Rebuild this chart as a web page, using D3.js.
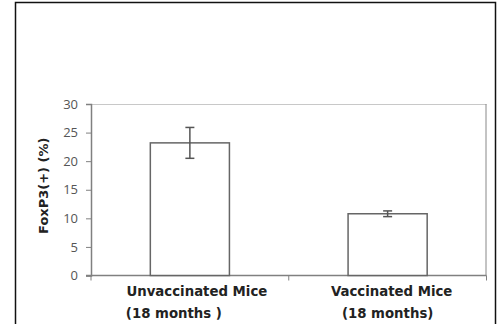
<!DOCTYPE html>
<html>
<head>
<meta charset="utf-8">
<script src="https://cdn.jsdelivr.net/npm/d3@7"></script>
<style>
  body { margin: 0; background: #fff; }
  svg { display: block; }
</style>
</head>
<body>
<svg width="501" height="324"></svg>
<script>
// Chart data
const categories = ["Unvaccinated Mice", "Vaccinated Mice"];
const subLabels = ["(18 months )", "(18 months)"];
const means = [23.2, 10.8];
const errors = [2.7, 0.5];
const yTicks = [0, 5, 10, 15, 20, 25, 30];

const svg = d3.select("svg");

// outer frame
svg.append("rect")
    .attr("x", 15.5).attr("y", 2.5)
    .attr("width", 480).attr("height", 330)
    .attr("fill", "none")
    .attr("stroke", "#111")
    .attr("stroke-width", 1.5);

const margin = {top: 104, left: 91, right: 14.5, bottom: 48.5};
const width = 501 - margin.left - margin.right;
const height = 324 - margin.top - margin.bottom;

const g = svg.append("g")
    .attr("transform", `translate(${margin.left},${margin.top})`);

const x = d3.scaleBand()
    .domain(categories)
    .range([0, width])
    .paddingInner(0.6)
    .paddingOuter(0.3);

const y = d3.scaleLinear()
    .domain([0, 30])
    .range([height, 0]);

// plot area border (top and right)
g.append("line")
    .attr("x1", 0).attr("x2", width)
    .attr("y1", 0.5).attr("y2", 0.5)
    .attr("stroke", "#c8c8c8");
g.append("line")
    .attr("x1", width - 0.5).attr("x2", width - 0.5)
    .attr("y1", 0).attr("y2", height)
    .attr("stroke", "#888");

// y axis
const yAxis = g.append("g")
    .call(d3.axisLeft(y).tickValues(yTicks).tickSize(5).tickPadding(8));
yAxis.select(".domain").attr("stroke", "#808080").attr("stroke-width", 1.5);
yAxis.selectAll(".tick line").attr("stroke", "#808080");
yAxis.selectAll("text")
    .attr("fill", "#555")
    .style("font-family", "'Open Sans', Arial, sans-serif")
    .style("font-size", "13px");

// x axis line with boundary ticks pointing down
const xAxis = g.append("g").attr("transform", `translate(0,${height})`);
xAxis.append("line")
    .attr("x1", -5).attr("x2", width)
    .attr("stroke", "#808080").attr("stroke-width", 1.5);
const bounds = [0, width / 2, width];
xAxis.selectAll(".xtick")
    .data(bounds)
    .enter().append("line")
    .attr("x1", d => d).attr("x2", d => d)
    .attr("y1", 0).attr("y2", 5)
    .attr("stroke", "#808080");

// bars
g.selectAll(".bar")
    .data(categories)
    .enter().append("rect")
    .attr("class", "bar")
    .attr("x", d => x(d))
    .attr("y", (d, i) => y(means[i]))
    .attr("width", x.bandwidth())
    .attr("height", (d, i) => height - y(means[i]))
    .attr("fill", "#fff")
    .attr("stroke", "#666")
    .attr("stroke-width", 1.5);

// error bars
const eb = g.selectAll(".err")
    .data(categories)
    .enter().append("g")
    .attr("class", "err")
    .attr("transform", d => `translate(${x(d) + x.bandwidth() / 2},0)`)
    .attr("stroke", "#555")
    .attr("stroke-width", 1.5);
eb.append("line")
    .attr("y1", (d, i) => y(means[i] + errors[i]))
    .attr("y2", (d, i) => y(means[i] - errors[i]));
eb.append("line")
    .attr("x1", -4.5).attr("x2", 4.5)
    .attr("y1", (d, i) => y(means[i] + errors[i]))
    .attr("y2", (d, i) => y(means[i] + errors[i]));
eb.append("line")
    .attr("x1", -4.5).attr("x2", 4.5)
    .attr("y1", (d, i) => y(means[i] - errors[i]))
    .attr("y2", (d, i) => y(means[i] - errors[i]));

// category labels
const lab = g.selectAll(".cat")
    .data(categories)
    .enter().append("text")
    .attr("class", "cat")
    .attr("transform", d => `translate(${x(d) + x.bandwidth() / 2},${height + 20})`)
    .attr("fill", "#222")
    .style("font-family", "'DejaVu Sans', Verdana, sans-serif")
    .style("font-weight", "bold")
    .style("font-size", "13.3px");
lab.append("tspan")
    .attr("text-anchor", "middle")
    .attr("x", (d, i) => i === 0 ? 7 : 4)
    .text(d => d);
lab.append("tspan")
    .attr("text-anchor", "middle")
    .attr("x", (d, i) => i === 0 ? -16 : 0)
    .attr("dy", 22)
    .text((d, i) => subLabels[i]);

// y axis title
g.append("text")
    .attr("transform", `translate(-43,${height / 2 - 4}) rotate(-90)`)
    .attr("text-anchor", "middle")
    .attr("fill", "#222")
    .style("font-family", "'DejaVu Sans', Verdana, sans-serif")
    .style("font-weight", "bold")
    .style("font-size", "13px")
    .text("FoxP3(+) (%)");
</script>
</body>
</html>
